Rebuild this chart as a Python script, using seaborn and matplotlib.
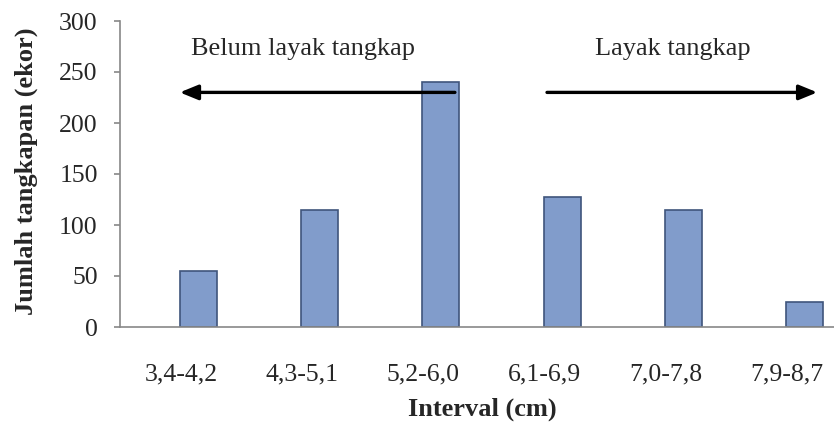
import matplotlib
matplotlib.use("Agg")
import matplotlib.pyplot as plt
import pandas as pd
import seaborn as sns

# data
intervals = ["3,4-4,2", "4,3-5,1", "5,2-6,0", "6,1-6,9", "7,0-7,8", "7,9-8,7"]
jumlah = [55, 115, 240, 127, 115, 25]

df = pd.DataFrame({"interval": intervals, "jumlah": jumlah})

sns.set_style("white")
plt.rcParams["font.family"] = ["Liberation Serif", "DejaVu Serif"]

fig = plt.figure(figsize=(8.34, 4.30), dpi=100)
ax = fig.add_axes([120.4 / 834, 103 / 430, 713.6 / 834, 306 / 430])

sns.barplot(data=df, x="interval", y="jumlah", color="#819CCB",
            width=0.305, saturation=1, edgecolor="#3F557C", linewidth=1.2,
            ax=ax)
# bars sit a little right of the category centre (as in the original)
for p in ax.patches:
    p.set_x(p.get_x() + 0.145)

ax.set_xlim(-0.5, 5.388)
ax.set_ylim(0, 300)
ax.set_yticks([0, 50, 100, 150, 200, 250, 300])

for s in ["top", "right"]:
    ax.spines[s].set_visible(False)
for s in ["left", "bottom"]:
    ax.spines[s].set_color("#888888")
    ax.spines[s].set_linewidth(1.2)

ax.tick_params(axis="y", left=True, length=4.3, width=1.2, color="#888888",
               pad=12, labelsize=18.5)
ax.tick_params(axis="x", bottom=False, pad=23, labelsize=18.5)

ax.set_xlabel("Interval (cm)", fontsize=19, fontweight="bold")
ax.set_ylabel("Jumlah tangkapan (ekor)", fontsize=19, fontweight="bold")
ax.xaxis.label.set_va("center")
ax.yaxis.label.set_va("center")
ax.xaxis.set_label_coords(0.507, -0.268)
ax.yaxis.set_label_coords(-0.132, 0.508)

# arrows and region labels
arrow = dict(arrowstyle="-|>,head_length=1.1,head_width=0.45", color="black",
             lw=2.4, shrinkA=0, shrinkB=0)
ax.annotate("", xy=(-0.01, 230), xytext=(2.26, 230), arrowprops=arrow)
ax.annotate("", xy=(5.25, 230), xytext=(3.02, 230), arrowprops=arrow)
ax.text(1.007, 267, "Belum layak tangkap", ha="center", va="baseline",
        fontsize=19)
ax.text(4.06, 267, "Layak tangkap", ha="center", va="baseline", fontsize=19)

fig.savefig("out.png", dpi=100)
